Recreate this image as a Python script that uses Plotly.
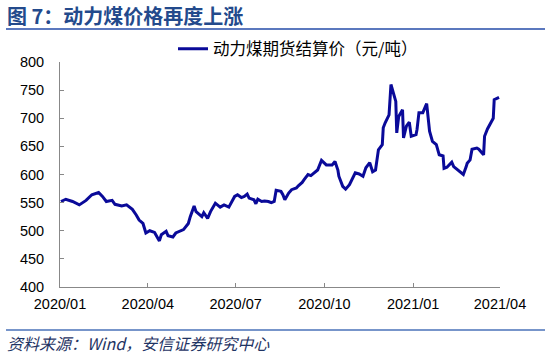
import plotly.graph_objects as go

dates = [
    "2020-01-02", "2020-01-07", "2020-01-14", "2020-01-21", "2020-01-28", "2020-02-03",
    "2020-02-10", "2020-02-14", "2020-02-18", "2020-02-24", "2020-02-27", "2020-03-05",
    "2020-03-10", "2020-03-16", "2020-03-20", "2020-03-23", "2020-03-27", "2020-03-30",
    "2020-04-03", "2020-04-08", "2020-04-13", "2020-04-15", "2020-04-20", "2020-04-22",
    "2020-04-27", "2020-04-30", "2020-05-08", "2020-05-13", "2020-05-15", "2020-05-19",
    "2020-05-21", "2020-05-27", "2020-05-29", "2020-06-02", "2020-06-05", "2020-06-10",
    "2020-06-15", "2020-06-19", "2020-06-24", "2020-06-30", "2020-07-03", "2020-07-07",
    "2020-07-10", "2020-07-13", "2020-07-15", "2020-07-20", "2020-07-22", "2020-07-24",
    "2020-07-28", "2020-07-31", "2020-08-04", "2020-08-07", "2020-08-10", "2020-08-12",
    "2020-08-17", "2020-08-19", "2020-08-21", "2020-08-25", "2020-08-28", "2020-09-02",
    "2020-09-04", "2020-09-08", "2020-09-10", "2020-09-14", "2020-09-17", "2020-09-21",
    "2020-09-24", "2020-09-28", "2020-10-03", "2020-10-09", "2020-10-12", "2020-10-15",
    "2020-10-16", "2020-10-20", "2020-10-23", "2020-10-27", "2020-11-02", "2020-11-06",
    "2020-11-10", "2020-11-13", "2020-11-17", "2020-11-20", "2020-11-23", "2020-11-26",
    "2020-11-30", "2020-12-01", "2020-12-03", "2020-12-07", "2020-12-09", "2020-12-14",
    "2020-12-15", "2020-12-17", "2020-12-21", "2020-12-22", "2020-12-25", "2020-12-28",
    "2020-12-30", "2021-01-04", "2021-01-05", "2021-01-07", "2021-01-11", "2021-01-13",
    "2021-01-15", "2021-01-18", "2021-01-21", "2021-01-25", "2021-01-28", "2021-02-01",
    "2021-02-02", "2021-02-05", "2021-02-10", "2021-02-12", "2021-02-17", "2021-02-22",
    "2021-02-25", "2021-02-26", "2021-03-01", "2021-03-03", "2021-03-08", "2021-03-10",
    "2021-03-15", "2021-03-16", "2021-03-19", "2021-03-23", "2021-03-25", "2021-03-26",
    "2021-03-31",
]

prices = [
    552, 556, 552, 546, 554, 564,
    568, 561, 552, 554, 547, 544,
    546, 538, 528, 519, 513, 496,
    500, 497, 482, 493, 499, 491,
    489, 496, 502, 513, 525, 544,
    534, 525, 532, 522, 534, 549,
    542, 546, 542, 561, 564, 559,
    561, 565, 558, 555, 548, 556,
    552, 553, 552, 550, 552, 572,
    570, 564, 555, 567, 573, 576,
    580, 586, 591, 600, 598, 603,
    608, 625, 617, 617, 623, 608,
    597, 579, 574, 582, 603, 601,
    597, 612, 621, 605, 608, 644,
    653, 683, 692, 706, 760, 730,
    674, 703, 715, 665, 686, 693,
    668, 671, 680, 710, 710, 718,
    726, 677, 659, 653, 635, 633,
    611, 613, 622, 614, 607, 600,
    614, 620, 626, 645, 647, 645,
    635, 668, 681, 693, 700, 733,
    737,
]

tick_vals = ["2020-01-01", "2020-04-01", "2020-07-01", "2020-10-01", "2021-01-01", "2021-04-01"]
tick_text = ["2020/01", "2020/04", "2020/07", "2020/10", "2021/01", "2021/04"]

series_name = "动力煤期货结算价（元/吨）"
title_text = "<b>图 7：动力煤价格再度上涨</b>"
source_text = "<i>资料来源：Wind，安信证券研究中心</i>"

W, H = 550, 356
L, R, T, B = 60, 500, 62, 287


def px(x):
    return (x - L) / (R - L)


def py(y):
    return (B - y) / (B - T)


fig = go.Figure()
fig.add_trace(go.Scatter(
    x=dates, y=prices, mode="lines", name=series_name,
    line=dict(color="#0a0a99", width=3),
))

axis_font = dict(family="Arial, Liberation Sans", size=14.5, color="#000000")

fig.update_layout(
    width=W, height=H,
    margin=dict(l=L, r=W - R, t=T, b=H - B),
    paper_bgcolor="white", plot_bgcolor="white",
    showlegend=True,
    legend=dict(
        orientation="h", x=px(173), y=py(49), xanchor="left", yanchor="middle",
        font=dict(family="Noto Sans CJK SC", size=16.5, color="#000000"),
        bgcolor="rgba(0,0,0,0)",
    ),
    xaxis=dict(
        type="date", range=["2020-01-01", "2021-04-01"],
        tickmode="array", tickvals=tick_vals, ticktext=tick_text,
        ticks="inside", ticklen=4, tickcolor="#888888",
        ticklabelstandoff=4,
        showline=True, linecolor="#888888", linewidth=1,
        showgrid=False, zeroline=False, tickfont=axis_font,
    ),
    yaxis=dict(
        range=[400, 800], dtick=50, tick0=400,
        ticks="inside", ticklen=4, tickcolor="#888888",
        ticklabelstandoff=12,
        showline=True, linecolor="#888888", linewidth=1,
        showgrid=False, zeroline=False, tickfont=axis_font,
    ),
    annotations=[
        dict(text=title_text, xref="paper", yref="paper", x=px(5), y=py(15),
             xanchor="left", yanchor="middle", showarrow=False,
             font=dict(family="Noto Sans CJK SC", size=20, color="#234a8c")),
        dict(text=source_text, xref="paper", yref="paper", x=px(5), y=py(343),
             xanchor="left", yanchor="middle", showarrow=False,
             font=dict(family="Noto Sans CJK SC", size=16, color="#1f3464")),
    ],
    shapes=[
        dict(type="line", xref="paper", yref="paper", x0=px(6), x1=px(545),
             y0=py(29), y1=py(29), line=dict(color="#5b78be", width=2)),
        dict(type="line", xref="paper", yref="paper", x0=px(6), x1=px(545),
             y0=py(330), y1=py(330), line=dict(color="#4a72b8", width=1.5)),
    ],
)

fig.write_html(
    "out.html",
    config={"displayModeBar": False},
    post_script="document.body.style.margin='0';document.body.style.overflow='hidden';",
)
